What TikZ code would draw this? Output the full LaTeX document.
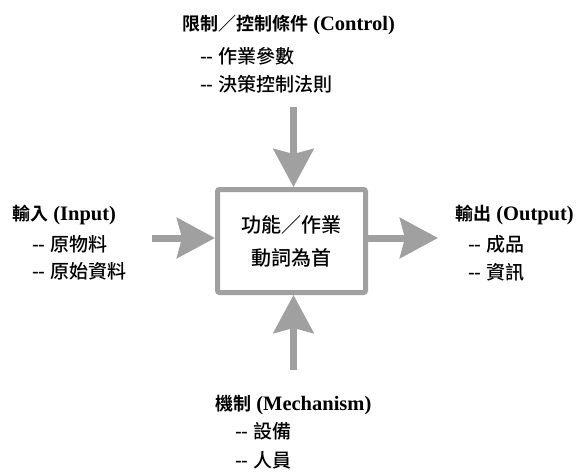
\documentclass[tikz,border=0pt]{standalone}
\usepackage{fontspec}
\setmainfont{Liberation Serif}
\newfontfamily\cjk[BoldFont={Noto Sans CJK TC Bold}]{Noto Sans CJK TC Medium}
\usetikzlibrary{arrows.meta}
\definecolor{ag}{HTML}{A0A0A0}
\newcommand\hdr[2]{{\cjk\bfseries #1}{\rmfamily\bfseries\fontsize{20.5}{20.5}\selectfont\ (#2)}}
\tikzset{
  bigarrow/.style={draw=ag, line width=7pt, -{Stealth[length=38pt,width=40pt,inset=5pt]}},
  hd/.style={anchor=base west, inner sep=0pt, font=\cjk\fontsize{18}{18}\selectfont},
  sub/.style={anchor=base west, inner sep=0pt, font=\cjk\fontsize{19}{19}\selectfont},
  funcbox/.style={draw=ag, line width=5pt, rounded corners=2pt, minimum width=148pt,
    minimum height=103pt, align=center, font=\cjk\fontsize{20}{33}\selectfont}
}
\begin{document}
\begin{tikzpicture}[x=1pt,y=-1pt]
\useasboundingbox (0,0) rectangle (576,472);
\node[funcbox] (func) at (291.5,241) {功能／作業\\動詞為首};
% arrows
\coordinate (tA) at (293.5,107);
\coordinate (lA) at (152,238);
\coordinate (rE) at (438,238);
\coordinate (bA) at (293.5,370);
\draw[bigarrow] (tA) -- (tA |- func.north);
\draw[bigarrow] (lA) -- (lA -| func.west);
\draw[bigarrow] (rE -| func.east) -- (rE);
\draw[bigarrow] (bA) -- (bA |- func.south);
% control
\node[hd] (ctrlh) at (182,30) {\hdr{限制／控制條件}{Control}};
\node[sub] (ctrl1) at (200,63) {-{}- 作業參數};
\node[sub] (ctrl2) at (200,91) {-{}- 決策控制法則};
% input
\node[hd] (inh) at (12,220) {\hdr{輸入}{Input}};
\node[sub] (in1) at (32,251) {-{}- 原物料};
\node[sub] (in2) at (32,278) {-{}- 原始資料};
% output
\node[hd] (outh) at (455,220) {\hdr{輸出}{Output}};
\node[sub] (out1) at (468,251) {-{}- 成品};
\node[sub] (out2) at (468,279) {-{}- 資訊};
% mechanism
\node[hd] (mechh) at (215,410) {\hdr{機制}{Mechanism}};
\node[sub] (mech1) at (235,438) {-{}- 設備};
\node[sub] (mech2) at (235,467) {-{}- 人員};
\end{tikzpicture}
\end{document}
